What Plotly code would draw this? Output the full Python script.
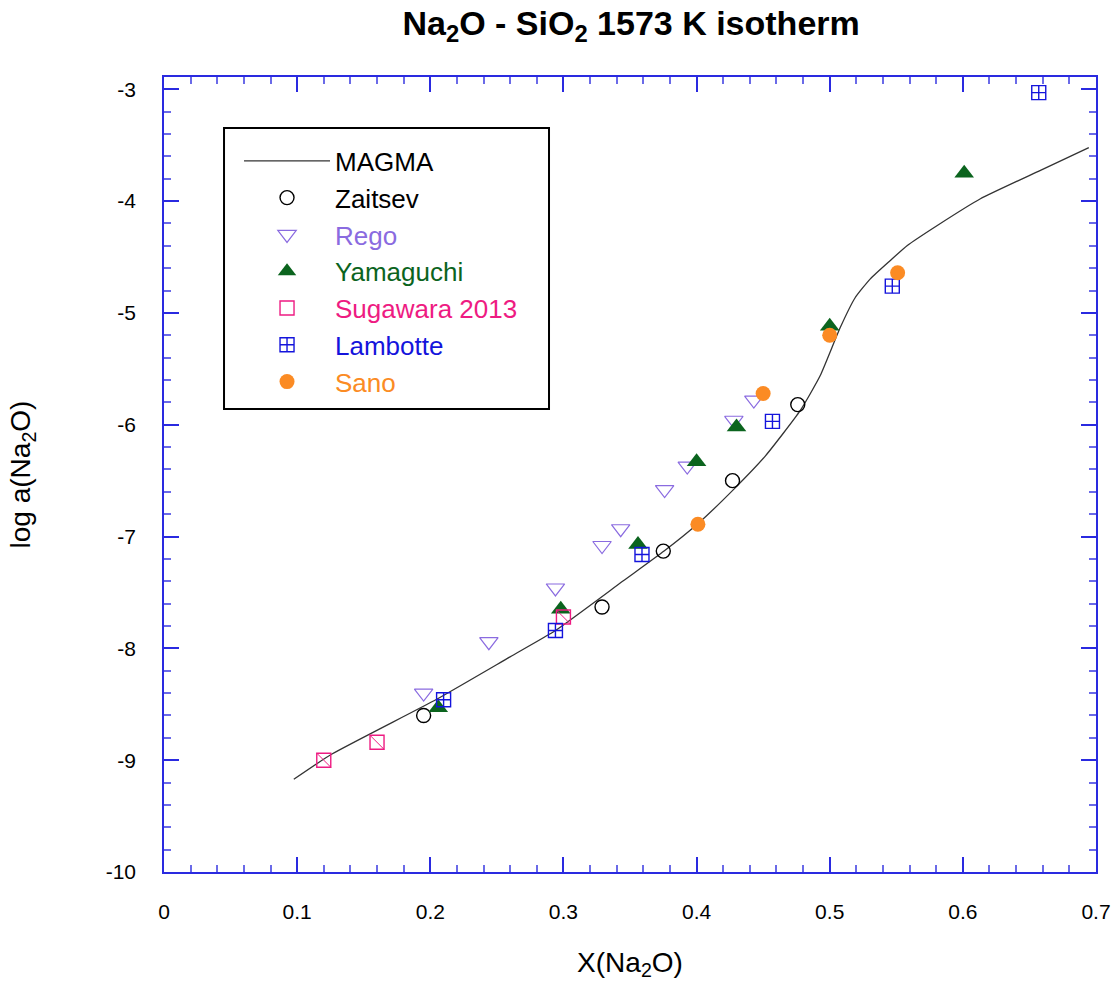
import plotly.graph_objects as go

# ---- data ----
magma_x = [0.0975, 0.1258, 0.2048, 0.2599, 0.2937, 0.345, 0.3756, 0.4007, 0.4277, 0.4516,
           0.4778, 0.4929, 0.5079, 0.5192, 0.5305, 0.5455, 0.5583, 0.5808, 0.6132, 0.6583, 0.6946]
magma_y = [-9.171, -8.947, -8.455, -8.076, -7.843, -7.396, -7.13, -6.888, -6.58, -6.28,
           -5.874, -5.560, -5.131, -4.862, -4.695, -4.531, -4.397, -4.218, -3.979, -3.725, -3.522]

zaitsev_x = [0.195, 0.329, 0.375, 0.427, 0.476]
zaitsev_y = [-8.60, -7.63, -7.13, -6.50, -5.82]

rego_x = [0.195, 0.244, 0.294, 0.329, 0.343, 0.376, 0.393, 0.428, 0.443]
rego_y = [-8.40, -7.94, -7.46, -7.08, -6.93, -6.58, -6.37, -5.96, -5.78]

yamaguchi_x = [0.206, 0.298, 0.356, 0.400, 0.430, 0.500, 0.601]
yamaguchi_y = [-8.53, -7.65, -7.07, -6.33, -6.02, -5.12, -3.75]

sugawara_x = [0.120, 0.160, 0.300]
sugawara_y = [-9.00, -8.84, -7.72]

lambotte_x = [0.210, 0.294, 0.359, 0.457, 0.547, 0.657]
lambotte_y = [-8.46, -7.84, -7.16, -5.97, -4.76, -3.03]

sano_x = [0.401, 0.450, 0.500, 0.551]
sano_y = [-6.89, -5.72, -5.20, -4.64]

x_ticks = [0, 0.1, 0.2, 0.3, 0.4, 0.5, 0.6, 0.7]
x_ticktext = ["0", "0.1", "0.2", "0.3", "0.4", "0.5", "0.6", "0.7"]
y_ticks = [-10, -9, -8, -7, -6, -5, -4, -3]
y_ticktext = ["-10", "-9", "-8", "-7", "-6", "-5", "-4", "-3"]

# ---- styles ----
C_ZAI = "#000000"
C_REGO = "#8a6be0"
C_YAM = "#0b641e"
C_SUG = "#ee1b82"
C_LAM = "#1414dc"
C_SANO = "#fb8b24"
AXIS = "#2a2ae0"
FONT = "Liberation Sans, Arial, sans-serif"


def lbl(text, color):
    return f'<span style="color:{color}">{text}</span>'


fig = go.Figure()

fig.add_trace(go.Scatter(x=magma_x, y=magma_y, mode="lines", name=lbl("MAGMA", "#000000"),
                         line=dict(color="#333333", width=1.3, shape="spline", smoothing=0.5)))
fig.add_trace(go.Scatter(x=zaitsev_x, y=zaitsev_y, mode="markers", name=lbl("Zaitsev", C_ZAI),
                         marker=dict(symbol="circle-open", size=14, color=C_ZAI, line=dict(width=1.4))))
fig.add_trace(go.Scatter(x=rego_x, y=rego_y, mode="markers", name=lbl("Rego", C_REGO),
                         marker=dict(symbol="triangle-down-open", size=16, color=C_REGO, line=dict(width=1.2))))
fig.add_trace(go.Scatter(x=yamaguchi_x, y=yamaguchi_y, mode="markers", name=lbl("Yamaguchi", C_YAM),
                         marker=dict(symbol="triangle-up", size=17, color=C_YAM, line=dict(width=0))))
fig.add_trace(go.Scatter(x=sugawara_x, y=sugawara_y, mode="markers", name=lbl("Sugawara 2013", C_SUG),
                         legendgroup="sug",
                         marker=dict(symbol="square-open", size=14, color=C_SUG, line=dict(width=1.4))))
fig.add_trace(go.Scatter(x=sugawara_x, y=sugawara_y, mode="markers", showlegend=False,
                         legendgroup="sug", hoverinfo="skip",
                         marker=dict(symbol="line-nw", size=14, color=C_SUG, line=dict(width=1, color=C_SUG))))
fig.add_trace(go.Scatter(x=lambotte_x, y=lambotte_y, mode="markers", name=lbl("Lambotte", C_LAM),
                         marker=dict(symbol="square-cross-open", size=14, color=C_LAM, line=dict(width=1.4))))
fig.add_trace(go.Scatter(x=sano_x, y=sano_y, mode="markers", name=lbl("Sano", C_SANO),
                         marker=dict(symbol="circle", size=15, color=C_SANO, line=dict(width=0))))

axis_common = dict(
    showgrid=False, zeroline=False, showline=True, linecolor=AXIS, linewidth=1.5,
    mirror="allticks", ticks="inside", ticklen=15, tickwidth=1.5, tickcolor=AXIS,
    tickfont=dict(family=FONT, size=21, color="#000000"), automargin=False,
)

fig.update_layout(
    width=1117, height=990,
    margin=dict(l=164, r=21, t=77, b=118, autoexpand=False),
    paper_bgcolor="white", plot_bgcolor="white",
    font=dict(family=FONT, color="#000000"),
    title=dict(text="<b>Na<sub>2</sub>O - SiO<sub>2</sub> 1573 K isotherm</b>",
               x=0.565, xanchor="center", y=0.977, yanchor="middle",
               font=dict(family=FONT, size=34, color="#000000")),
    xaxis=dict(range=[0, 0.7], tickvals=x_ticks, ticktext=x_ticktext,
               minor=dict(dtick=0.02, tick0=0, ticks="inside", ticklen=7, tickwidth=1.5, tickcolor="#6a6ae8"),
               ticklabelstandoff=20,
               title=dict(text="X(Na<sub>2</sub>O)", font=dict(family=FONT, size=28), standoff=30),
               **axis_common),
    yaxis=dict(range=[-10, -2.89], tickvals=y_ticks, ticktext=y_ticktext,
               minor=dict(dtick=0.2, tick0=-10, ticks="inside", ticklen=7, tickwidth=1.5, tickcolor="#6a6ae8"),
               ticklabelstandoff=22,
               title=dict(text="log a(Na<sub>2</sub>O)", font=dict(family=FONT, size=28), standoff=67),
               **axis_common),
    legend=dict(x=0.0805, y=0.924, xanchor="left", yanchor="top",
                bgcolor="rgba(0,0,0,0)", borderwidth=0,
                font=dict(family=FONT, size=26, color="#000000"),
                itemwidth=86, tracegroupgap=0),
    shapes=[dict(type="rect", xref="paper", yref="paper", x0=0.0644, x1=0.4131, y0=0.5824, y1=0.9358,
                 line=dict(color="#000000", width=2), fillcolor="white", layer="below")],
    showlegend=True,
)

fig.write_html("out.html", config={"displayModeBar": False},
               post_script="document.body.style.margin='0';")
